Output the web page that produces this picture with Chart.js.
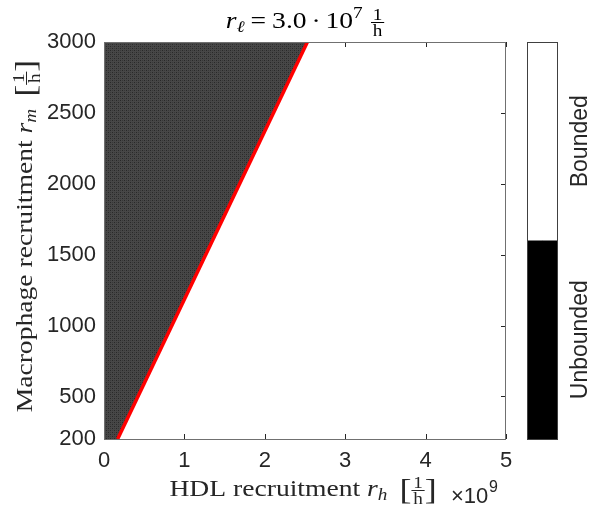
<!DOCTYPE html>
<html>
<head>
<meta charset="utf-8">
<script src="https://cdn.jsdelivr.net/npm/chart.js@4.4.1/dist/chart.umd.min.js"></script>
<style>
  html, body { margin: 0; padding: 0; background: #ffffff; }
  #wrap { position: relative; width: 591px; height: 512px; }
  #wrap canvas { position: absolute; left: 0; top: 0; }
</style>
</head>
<body>
<div id="wrap">
  <canvas id="main" width="591" height="512"></canvas>
  <canvas id="cbar" width="591" height="512"></canvas>
</div>
<script>
// Stability boundary in the (r_h, r_m) plane for r_l = 3.0e7 1/h.
// Left of the boundary the solution is unbounded, right of it bounded.
const boundaryRh = [0.17, 2.53];     // HDL recruitment, x 1e9 1/h
const boundaryRm = [200, 3000];      // macrophage recruitment, 1/h
const rhRange = [0, 5];
const rmRange = [200, 3000];
const rhTicks = [0, 1, 2, 3, 4, 5];
const rmTicks = [200, 500, 1000, 1500, 2000, 2500, 3000];
const regionClasses = ['Unbounded', 'Bounded'];
const regionColors = ['#000000', '#ffffff'];

const SERIF = '"Liberation Serif", "DejaVu Serif", serif';
const SANS = '"Liberation Sans", Arial, Helvetica, sans-serif';
const AXIS_COLOR = '#262626';
const MATH_SX = 1.2;   // horizontal stretch for the math-style serif labels

// fine stipple used for the unbounded region
function makeStipple(ctx) {
  const c = document.createElement('canvas');
  c.width = 4; c.height = 4;
  const g = c.getContext('2d');
  g.fillStyle = '#474747'; g.fillRect(0, 0, 4, 4);
  g.fillStyle = '#282828'; g.fillRect(0, 0, 1, 1); g.fillRect(2, 2, 1, 1);
  g.fillStyle = '#383838'; g.fillRect(2, 0, 1, 1); g.fillRect(0, 2, 1, 1);
  return ctx.createPattern(c, 'repeat');
}

// draw a sequence of text runs (with sub/superscripts and small fractions)
function runs(ctx, list, x, y, draw) {
  let cx = x;
  ctx.textBaseline = 'alphabetic';
  for (const r of list) {
    if (r.gap) { cx += r.gap; continue; }
    ctx.font = r.f;
    if (r.frac) {
      const w = Math.max(ctx.measureText(r.frac[0]).width, ctx.measureText(r.frac[1]).width) + 3;
      if (draw) {
        ctx.textAlign = 'center';
        ctx.fillText(r.frac[0], cx + w / 2, y + r.num);
        ctx.fillText(r.frac[1], cx + w / 2, y + r.den);
        ctx.fillRect(cx, y + r.bar, w, 1);
        ctx.textAlign = 'left';
      }
      cx += w;
      continue;
    }
    if (draw) { ctx.textAlign = 'left'; ctx.fillText(r.t, cx, y + (r.dy || 0)); }
    cx += ctx.measureText(r.t).width;
  }
  return cx - x;
}

// draw runs centred on (cx, y) with the horizontal stretch applied
function centredRuns(ctx, list, cx, y) {
  const w = runs(ctx, list, 0, 0, false) * MATH_SX;
  ctx.save();
  ctx.translate(cx - w / 2, y);
  ctx.scale(MATH_SX, 1);
  runs(ctx, list, 0, 0, true);
  ctx.restore();
}

const R23 = '23px ' + SERIF, I23 = 'italic 23px ' + SERIF;
const R16 = '16px ' + SERIF, I16 = 'italic 16px ' + SERIF;
const B30 = '30px ' + SERIF;
const FRAC = { frac: ['1', 'h'], f: R16, num: -8, bar: -6, den: 8 };

const titleRuns = [
  { t: 'r', f: I23 }, { t: '\u2113', f: I16, dy: 4 }, { gap: 5 },
  { t: '=', f: R23 }, { gap: 5 }, { t: '3.0', f: R23 }, { gap: 4 },
  { t: '\u00b7', f: R23 }, { gap: 4 }, { t: '10', f: R23 },
  { t: '7', f: R16, dy: -10 }, { gap: 7 }, FRAC
];
const xLabelRuns = [
  { t: 'HDL recruitment ', f: R23 }, { t: 'r', f: I23 }, { t: 'h', f: I16, dy: 4 },
  { gap: 10 }, { t: '[', f: B30, dy: 3 }, FRAC, { t: ']', f: B30, dy: 3 }
];
const yLabelRuns = [
  { t: 'Macrophage recruitment ', f: R23 }, { t: 'r', f: I23 }, { t: 'm', f: I16, dy: 4 },
  { gap: 10 }, { t: '[', f: B30, dy: 3 }, FRAC, { t: ']', f: B30, dy: 3 }
];

const axesDecor = {
  id: 'axesDecor',
  beforeDatasetsDraw(chart) {
    // inward tick marks on all four sides
    const { ctx, chartArea: a, scales } = chart;
    const L = 5;
    ctx.save();
    ctx.strokeStyle = AXIS_COLOR;
    ctx.lineWidth = 1;
    ctx.beginPath();
    for (const t of scales.x.ticks) {
      const px = Math.round(scales.x.getPixelForValue(t.value)) + 0.5;
      ctx.moveTo(px, a.bottom); ctx.lineTo(px, a.bottom - L);
      ctx.moveTo(px, a.top); ctx.lineTo(px, a.top + L);
    }
    for (const t of scales.y.ticks) {
      const py = Math.round(scales.y.getPixelForValue(t.value)) + 0.5;
      ctx.moveTo(a.left, py); ctx.lineTo(a.left + L, py);
      ctx.moveTo(a.right, py); ctx.lineTo(a.right - L, py);
    }
    ctx.stroke();
    ctx.restore();
  },
  afterDatasetsDraw(chart) {
    const { ctx, chartArea: a } = chart;
    ctx.save();
    ctx.strokeStyle = '#707070';
    ctx.lineWidth = 1;
    ctx.strokeRect(a.left + 0.5, a.top + 0.5, a.right - a.left - 1, a.bottom - a.top);
    ctx.restore();
  },
  afterDraw(chart) {
    const { ctx, chartArea: a } = chart;
    ctx.save();
    ctx.fillStyle = '#000000';
    // title
    centredRuns(ctx, titleRuns, (a.left + a.right) / 2, 28);
    // x axis label
    ctx.fillStyle = '#262626';
    centredRuns(ctx, xLabelRuns, 303, 496);
    // exponent of the x axis
    ctx.font = '22px ' + SANS;
    ctx.textAlign = 'left';
    ctx.fillText('\u00d710', 451, 503);
    ctx.font = '16px ' + SANS;
    ctx.fillText('9', 489, 492);
    // y axis label, rotated
    ctx.translate(32, 236);
    ctx.rotate(-Math.PI / 2);
    centredRuns(ctx, yLabelRuns, 0, 0);
    ctx.restore();
  }
};

const mainCtx = document.getElementById('main').getContext('2d');
new Chart(mainCtx, {
  type: 'scatter',
  data: {
    datasets: [
      {
        // unbounded region: from the left edge up to the boundary
        data: [
          { x: rhRange[0], y: boundaryRm[0] },
          { x: boundaryRh[0], y: boundaryRm[0] },
          { x: boundaryRh[1], y: boundaryRm[1] }
        ],
        showLine: true,
        fill: 'end',
        backgroundColor: makeStipple(mainCtx),
        borderWidth: 0,
        pointRadius: 0,
        order: 2
      },
      {
        data: boundaryRh.map((v, i) => ({ x: v, y: boundaryRm[i] })),
        showLine: true,
        fill: false,
        borderColor: '#ff0000',
        borderWidth: 3.5,
        pointRadius: 0,
        order: 1
      }
    ]
  },
  options: {
    responsive: false,
    animation: false,
    devicePixelRatio: 1,
    layout: { padding: { left: 0, right: 85, top: 42, bottom: 0 } },
    plugins: { legend: { display: false }, tooltip: { enabled: false } },
    scales: {
      x: {
        type: 'linear', min: rhRange[0], max: rhRange[1],
        afterBuildTicks(s) { s.ticks = rhTicks.map(v => ({ value: v })); },
        afterFit(s) { s.height = 73; },
        grid: { display: false, drawTicks: false },
        border: { display: false },
        ticks: { color: AXIS_COLOR, font: { family: SANS, size: 22 }, padding: 9, maxRotation: 0,
                 callback: v => String(v) }
      },
      y: {
        type: 'linear', min: rmRange[0], max: rmRange[1],
        afterBuildTicks(s) { s.ticks = rmTicks.map(v => ({ value: v })); },
        afterFit(s) { s.width = 104; },
        grid: { display: false, drawTicks: false },
        border: { display: false },
        ticks: { color: AXIS_COLOR, font: { family: SANS, size: 22 }, padding: 8,
                 callback: v => String(v) }
      }
    }
  },
  plugins: [axesDecor]
});

// colour bar: two classes stacked from 0 to 2
const cbarDecor = {
  id: 'cbarDecor',
  afterDatasetsDraw(chart) {
    const { ctx, chartArea: a } = chart;
    ctx.save();
    ctx.strokeStyle = '#404040';
    ctx.lineWidth = 1;
    ctx.strokeRect(a.left + 0.5, a.top + 0.5, a.right - a.left - 1, a.bottom - a.top);
    ctx.restore();
  },
  afterDraw(chart) {
    const { ctx, scales } = chart;
    ctx.save();
    ctx.fillStyle = AXIS_COLOR;
    ctx.font = '23px ' + SANS;
    ctx.textAlign = 'center';
    ctx.textBaseline = 'alphabetic';
    regionClasses.forEach((name, i) => {
      const cy = scales.y.getPixelForValue(i + 0.5);
      ctx.save();
      ctx.translate(587, cy);
      ctx.rotate(-Math.PI / 2);
      ctx.fillText(name, 0, 0);
      ctx.restore();
    });
    ctx.restore();
  }
};

new Chart(document.getElementById('cbar').getContext('2d'), {
  type: 'scatter',
  data: {
    datasets: [
      ...regionClasses.map((name, i) => ({
        label: name,
        data: [{ x: 0, y: i + 1 }, { x: 1, y: i + 1 }],
        showLine: true,
        fill: { value: i },
        backgroundColor: regionColors[i],
        borderWidth: 0,
        pointRadius: 0
      })),
      {
        // faint rendering seam inside the lower block
        data: [{ x: 0.03, y: 0 }, { x: 0.5, y: 1 }],
        showLine: true,
        fill: false,
        borderColor: 'rgba(150,150,150,0.8)',
        borderWidth: 0.8,
        pointRadius: 0
      }
    ]
  },
  options: {
    responsive: false,
    animation: false,
    devicePixelRatio: 1,
    layout: { padding: { left: 527, right: 33, top: 42, bottom: 73 } },
    plugins: { legend: { display: false }, tooltip: { enabled: false } },
    scales: {
      x: { type: 'linear', min: 0, max: 1, display: false },
      y: { type: 'linear', min: 0, max: regionClasses.length, display: false }
    }
  },
  plugins: [cbarDecor]
});
</script>
</body>
</html>
